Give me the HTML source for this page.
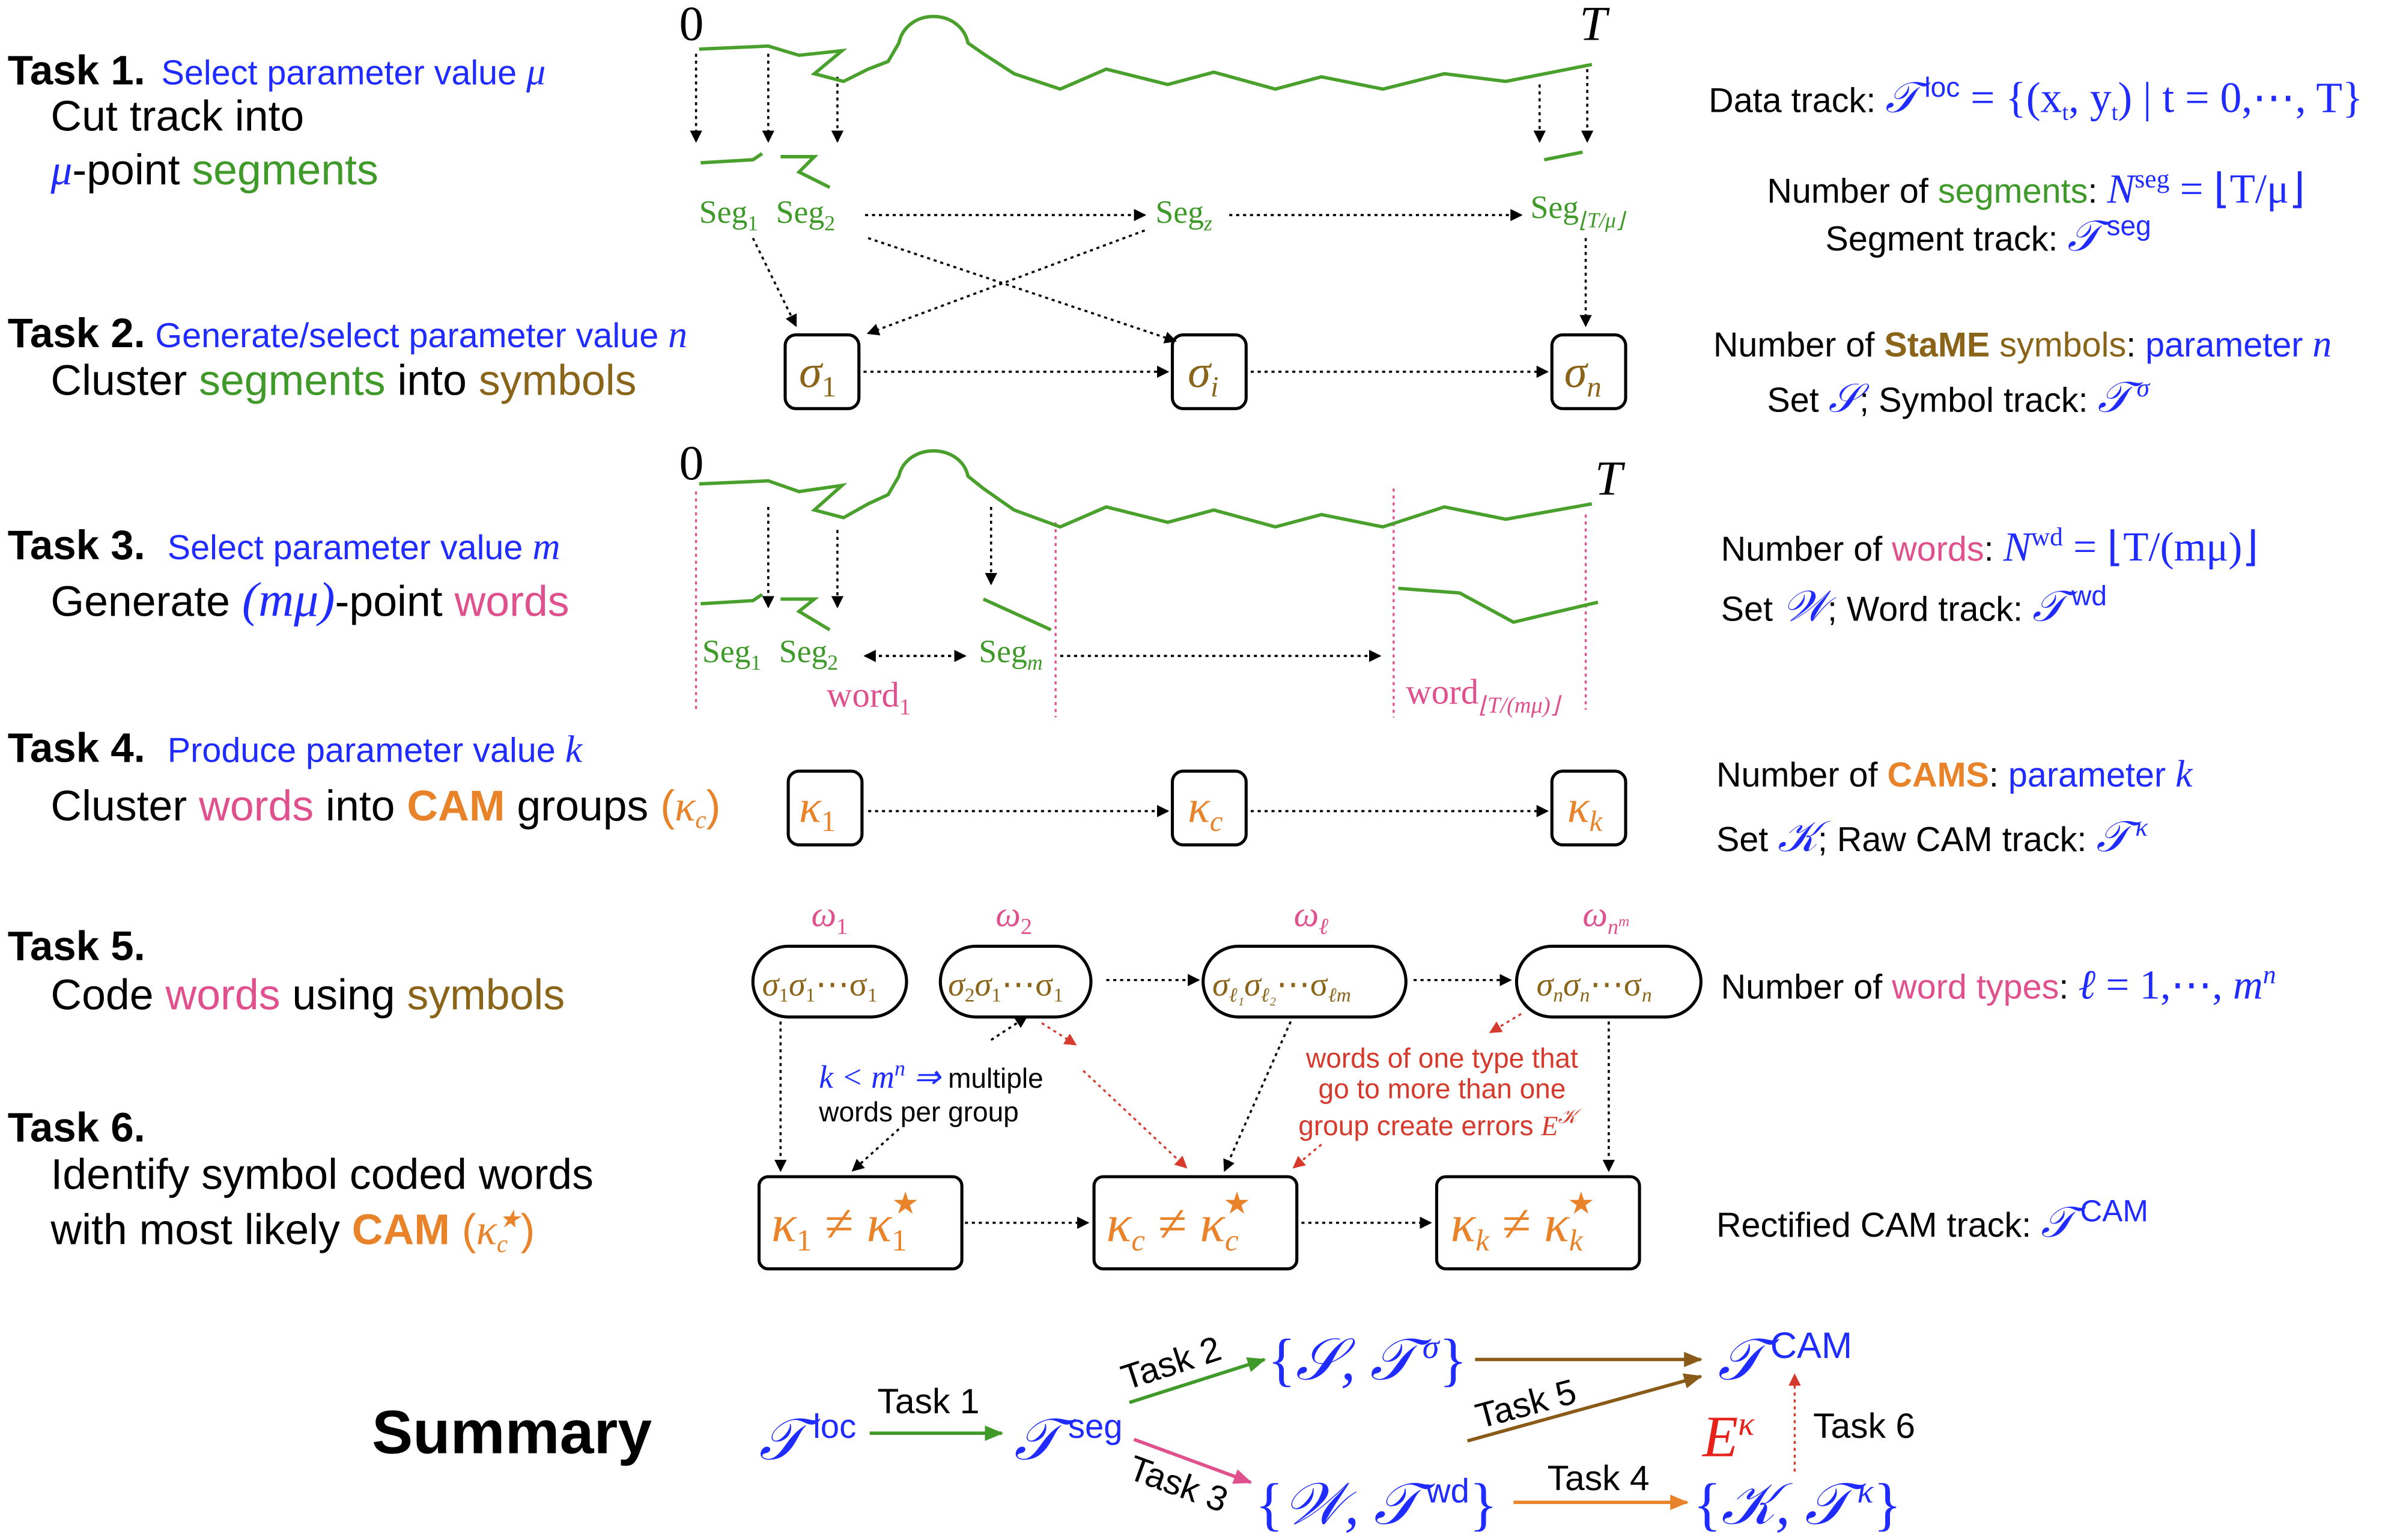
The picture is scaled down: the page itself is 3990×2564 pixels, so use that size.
<!DOCTYPE html>
<html><head><meta charset="utf-8"><style>
html,body{margin:0;padding:0;background:#fff}
svg{display:block}
.s{font-family:"Liberation Sans",sans-serif}
.r{font-family:"Liberation Serif",serif}
.b{fill:#1f2bff}.g{fill:#3f9a2a}.br{fill:#8a6418}.p{fill:#e0508c}.o{fill:#e8832a}.rd{fill:#d63a2c}
</style></head><body>
<svg width="3990" height="2564" viewBox="0 0 1560 1002.5" preserveAspectRatio="none" xmlns="http://www.w3.org/2000/svg">
<defs>
<marker id="a" markerWidth="8" markerHeight="8" refX="7" refY="4" orient="auto" markerUnits="userSpaceOnUse"><path d="M0,0 L8,4 L0,8 z" fill="#000"/></marker>
<marker id="ar" markerWidth="8" markerHeight="8" refX="7" refY="4" orient="auto" markerUnits="userSpaceOnUse"><path d="M0,0 L8,4 L0,8 z" fill="#d63a2c"/></marker>
<marker id="ag" markerWidth="12" markerHeight="10" refX="11" refY="5" orient="auto" markerUnits="userSpaceOnUse"><path d="M0,0 L12,5 L0,10 z" fill="#3f9a2a"/></marker>
<marker id="ap" markerWidth="12" markerHeight="10" refX="11" refY="5" orient="auto" markerUnits="userSpaceOnUse"><path d="M0,0 L12,5 L0,10 z" fill="#e0508c"/></marker>
<marker id="ab" markerWidth="12" markerHeight="10" refX="11" refY="5" orient="auto" markerUnits="userSpaceOnUse"><path d="M0,0 L12,5 L0,10 z" fill="#8a5a18"/></marker>
<marker id="ao" markerWidth="12" markerHeight="10" refX="11" refY="5" orient="auto" markerUnits="userSpaceOnUse"><path d="M0,0 L12,5 L0,10 z" fill="#e8832a"/></marker>
</defs>
<g stroke="#000" stroke-width="1.4" stroke-dasharray="2,2.5" fill="none" marker-end="url(#a)">
<line x1="453" y1="35" x2="453" y2="92"/><line x1="500" y1="35" x2="500" y2="92"/><line x1="545" y1="50" x2="545" y2="92"/>
<line x1="1002" y1="55" x2="1002" y2="92"/><line x1="1033" y1="45" x2="1033" y2="92"/>
<line x1="563" y1="140" x2="745" y2="140"/><line x1="800" y1="140" x2="990" y2="140"/>
<line x1="565" y1="155" x2="765" y2="222"/><line x1="745" y1="150" x2="565" y2="217"/>
<line x1="490" y1="155" x2="518" y2="212"/><line x1="1032" y1="155" x2="1032" y2="212"/>
<line x1="562" y1="242" x2="760" y2="242"/><line x1="814" y1="242" x2="1007" y2="242"/>
<line x1="500" y1="330" x2="500" y2="395"/><line x1="545" y1="345" x2="545" y2="395"/><line x1="645" y1="330" x2="645" y2="380"/>
<line x1="563" y1="427" x2="628" y2="427"/><line x1="628" y1="427" x2="563" y2="427"/>
<line x1="690" y1="427" x2="898" y2="427"/>
<line x1="565" y1="528" x2="760" y2="528"/><line x1="814" y1="528" x2="1007" y2="528"/>
<line x1="720" y1="638" x2="780" y2="638"/><line x1="920" y1="638" x2="983" y2="638"/>
<line x1="508" y1="665" x2="508" y2="762"/><line x1="840" y1="665" x2="797" y2="762"/>
<line x1="1047" y1="665" x2="1047" y2="762"/>
<line x1="628" y1="796" x2="708" y2="796"/><line x1="847" y1="796" x2="931" y2="796"/>
<line x1="585" y1="735" x2="555" y2="762"/><line x1="645" y1="677" x2="668" y2="662"/>
</g>
<g stroke="#d63a2c" stroke-width="1.3" stroke-dasharray="2,2.5" fill="none" marker-end="url(#ar)">
<line x1="678" y1="666" x2="700" y2="680"/><line x1="705" y1="697" x2="772" y2="760"/>
<line x1="990" y1="660" x2="970" y2="672"/><line x1="860" y1="745" x2="842" y2="760"/>
<line x1="1168" y1="958" x2="1168" y2="895"/>
</g>
<g stroke="#e0508c" stroke-width="1.3" stroke-dasharray="2,2.5">
<line x1="453" y1="320" x2="453" y2="462"/><line x1="687" y1="340" x2="687" y2="467"/>
<line x1="907" y1="318" x2="907" y2="467"/><line x1="1032" y1="335" x2="1032" y2="462"/>
</g>
<g stroke="#4aa02c" stroke-width="2.2" fill="none">
<path d="M455,32 L500,30 L520,36 L548,33 L530,48 L549,53 L565,45 L578,40 L585,28 C590,5 625,5 630,28 L640,35 L660,48 L690,58 L720,45 L760,55 L790,47 L830,58 L860,50 L900,58 L940,48 L980,53 L1036,42"/>
<path d="M456,106 L490,104 L496,100"/><path d="M508,102 L530,102 L520,112 L540,122"/>
<path d="M1005,104 L1030,99"/>
<path d="M455,315 L500,313 L520,320 L548,316 L530,332 L549,337 L565,328 L578,322 L585,310 C590,288 625,288 630,310 L640,318 L660,332 L690,343 L720,330 L760,340 L790,332 L830,343 L860,335 L900,343 L940,330 L980,338 L1036,328"/>
<path d="M456,393 L490,391 L496,387"/><path d="M508,390 L530,390 L520,398 L540,410"/><path d="M640,390 L684,410"/>
<path d="M910,383 L950,386 L985,405 L1040,392"/>
</g>
<g fill="none" stroke="#000" stroke-width="2">
<rect x="511" y="218" width="48" height="48" rx="7"/><rect x="763" y="218" width="48" height="48" rx="7"/><rect x="1010" y="218" width="48" height="48" rx="7"/>
<rect x="513" y="502" width="48" height="48" rx="7"/><rect x="763" y="502" width="48" height="48" rx="7"/><rect x="1010" y="502" width="48" height="48" rx="7"/>
<rect x="490" y="616" width="100" height="46" rx="23"/><rect x="612" y="616" width="98" height="46" rx="23"/>
<rect x="783" y="616" width="132" height="46" rx="23"/><rect x="987" y="616" width="120" height="46" rx="23"/>
<rect x="494" y="766" width="132" height="60" rx="6"/><rect x="712" y="766" width="132" height="60" rx="6"/><rect x="935" y="766" width="132" height="60" rx="6"/>
</g>
<g class="r" font-size="32">
<text x="442" y="26">0</text><text x="1028" y="26" font-style="italic">T</text>
<text x="442" y="312">0</text><text x="1038" y="322" font-style="italic">T</text>
</g>
<g class="r g" font-size="21">
<text x="455" y="145">Seg<tspan font-size="14" dy="5">1</tspan></text>
<text x="505" y="145">Seg<tspan font-size="14" dy="5">2</tspan></text>
<text x="752" y="145">Seg<tspan font-size="14" dy="5" font-style="italic">z</tspan></text>
<text x="996" y="142">Seg<tspan font-size="14" dy="6" font-style="italic">⌊T/μ⌋</tspan></text>
<text x="457" y="431">Seg<tspan font-size="14" dy="5">1</tspan></text>
<text x="507" y="431">Seg<tspan font-size="14" dy="5">2</tspan></text>
<text x="637" y="431">Seg<tspan font-size="14" dy="5" font-style="italic">m</tspan></text>
</g>
<g class="r p" font-size="23">
<text x="538" y="460">word<tspan font-size="15" dy="5">1</tspan></text>
<text x="915" y="458">word<tspan font-size="15" dy="6" font-style="italic">⌊T/(mμ)⌋</tspan></text>
<text x="528" y="603" font-style="italic">ω<tspan font-size="15" dy="5" font-style="normal">1</tspan></text>
<text x="648" y="603" font-style="italic">ω<tspan font-size="15" dy="5" font-style="normal">2</tspan></text>
<text x="842" y="603" font-style="italic">ω<tspan font-size="15" dy="5">ℓ</tspan></text>
<text x="1030" y="603" font-style="italic">ω<tspan font-size="14" dy="5">n<tspan font-size="10" dy="-5">m</tspan></tspan></text>
</g>
<g class="r" font-size="30" font-style="italic">
<text x="520" y="252" class="br">σ<tspan font-size="19" dy="6" font-style="normal">1</tspan></text>
<text x="773" y="252" class="br">σ<tspan font-size="19" dy="6">i</tspan></text>
<text x="1018" y="252" class="br">σ<tspan font-size="19" dy="6">n</tspan></text>
<text x="520" y="535" class="o">κ<tspan font-size="19" dy="6" font-style="normal">1</tspan></text>
<text x="773" y="535" class="o">κ<tspan font-size="19" dy="6">c</tspan></text>
<text x="1020" y="535" class="o">κ<tspan font-size="19" dy="6">k</tspan></text>
</g>
<g class="r br" font-size="22" font-style="italic">
<text x="496" y="648">σ<tspan font-size="13" dy="4" font-style="normal">1</tspan><tspan dy="-4">σ</tspan><tspan font-size="13" dy="4" font-style="normal">1</tspan><tspan dy="-4" font-style="normal">⋯σ</tspan><tspan font-size="13" dy="4" font-style="normal">1</tspan></text>
<text x="617" y="648">σ<tspan font-size="13" dy="4" font-style="normal">2</tspan><tspan dy="-4">σ</tspan><tspan font-size="13" dy="4" font-style="normal">1</tspan><tspan dy="-4" font-style="normal">⋯σ</tspan><tspan font-size="13" dy="4" font-style="normal">1</tspan></text>
<text x="789" y="648">σ<tspan font-size="13" dy="4">ℓ₁</tspan><tspan dy="-4">σ</tspan><tspan font-size="13" dy="4">ℓ₂</tspan><tspan dy="-4" font-style="normal">⋯σ</tspan><tspan font-size="13" dy="4">ℓm</tspan></text>
<text x="1000" y="648">σ<tspan font-size="13" dy="4">n</tspan><tspan dy="-4">σ</tspan><tspan font-size="13" dy="4">n</tspan><tspan dy="-4" font-style="normal">⋯σ</tspan><tspan font-size="13" dy="4">n</tspan></text>
</g>
<g class="r o" font-size="34" font-style="italic">
<text x="502" y="808">κ<tspan font-size="20" dy="6" font-style="normal">1</tspan><tspan dy="-6" font-style="normal"> ≠ </tspan>κ<tspan font-size="20" dy="6" font-style="normal">1</tspan><tspan font-size="20" dx="-10" dy="-24" font-style="normal">★</tspan></text>
<text x="720" y="808">κ<tspan font-size="20" dy="6">c</tspan><tspan dy="-6" font-style="normal"> ≠ </tspan>κ<tspan font-size="20" dy="6">c</tspan><tspan font-size="20" dx="-10" dy="-24" font-style="normal">★</tspan></text>
<text x="944" y="808">κ<tspan font-size="20" dy="6">k</tspan><tspan dy="-6" font-style="normal"> ≠ </tspan>κ<tspan font-size="20" dy="6">k</tspan><tspan font-size="20" dx="-10" dy="-24" font-style="normal">★</tspan></text>
</g>
<g class="s" font-size="27">
<text x="5" y="55" font-weight="bold">Task 1.</text>
<text x="105" y="55" class="b" font-size="22.5">Select parameter value <tspan class="r" font-style="italic" font-size="25">μ</tspan></text>
<text x="33" y="85" font-size="28">Cut track into</text>
<text x="33" y="120" font-size="28"><tspan class="b r" font-style="italic">μ</tspan>-point <tspan class="g">segments</tspan></text>
<text x="5" y="226" font-weight="bold">Task 2.</text>
<text x="101" y="226" class="b" font-size="22.5">Generate/select parameter value <tspan class="r" font-style="italic" font-size="25">n</tspan></text>
<text x="33" y="257" font-size="28">Cluster <tspan class="g">segments</tspan> into <tspan class="br">symbols</tspan></text>
<text x="5" y="364" font-weight="bold">Task 3.</text>
<text x="109" y="364" class="b" font-size="22.5">Select parameter value <tspan class="r" font-style="italic" font-size="25">m</tspan></text>
<text x="33" y="401" font-size="28">Generate <tspan class="b r" font-style="italic" font-size="32">(mμ)</tspan>-point <tspan class="p">words</tspan></text>
<text x="5" y="496" font-weight="bold">Task 4.</text>
<text x="109" y="496" class="b" font-size="22.5">Produce parameter value <tspan class="r" font-style="italic" font-size="25">k</tspan></text>
<text x="33" y="534" font-size="28">Cluster <tspan class="p">words</tspan> into <tspan class="o" font-weight="bold">CAM</tspan> groups <tspan class="o">(<tspan class="r" font-style="italic">κ<tspan font-size="16" dy="5">c</tspan></tspan><tspan dy="-5">)</tspan></tspan></text>
<text x="5" y="625" font-weight="bold">Task 5.</text>
<text x="33" y="657" font-size="28">Code <tspan class="p">words</tspan> using <tspan class="br">symbols</tspan></text>
<text x="5" y="743" font-weight="bold">Task 6.</text>
<text x="33" y="774" font-size="28">Identify symbol coded words</text>
<text x="33" y="810" font-size="28">with most likely <tspan class="o" font-weight="bold">CAM</tspan> <tspan class="o">(<tspan class="r" font-style="italic">κ<tspan font-size="16" dy="5">c</tspan><tspan font-size="16" dx="-6" dy="-16">★</tspan></tspan><tspan dy="11">)</tspan></tspan></text>
</g>
<g class="s" font-size="18">
<text x="533" y="708"><tspan class="b r" font-style="italic" font-size="21">k &lt; m<tspan font-size="14" dy="-8">n</tspan><tspan dy="8"> ⇒</tspan></tspan>  multiple</text>
<text x="533" y="730">words per group</text>
<text x="850" y="695" class="rd">words of one type that</text>
<text x="858" y="715" class="rd">go to more than one</text>
<text x="845" y="739" class="rd">group create errors <tspan class="r" font-style="italic">E<tspan font-size="13" dy="-8">𝒦</tspan></tspan></text>
</g>
<g class="s" font-size="22.5">
<text x="1112" y="73">Data track: <tspan class="b r" font-style="italic" font-size="28">𝒯<tspan font-size="18" dx="4" dy="-10" font-style="normal" class="s">loc</tspan><tspan dy="10" font-style="normal"> = {(x<tspan font-size="15" dy="5">t</tspan><tspan dy="-5">, y</tspan><tspan font-size="15" dy="5">t</tspan><tspan dy="-5">) | t = 0,⋯, T}</tspan></tspan></tspan></text>
<text x="1150" y="132">Number of <tspan class="g">segments</tspan>:  <tspan class="b r" font-style="italic" font-size="27">N<tspan font-size="17" dy="-10" font-style="normal">seg</tspan><tspan dy="10" font-style="normal"> = ⌊T/μ⌋</tspan></tspan></text>
<text x="1188" y="163">Segment track: <tspan class="b r" font-style="italic" font-size="28">𝒯<tspan class="s" font-size="18" dx="4" dy="-10" font-style="normal">seg</tspan></tspan></text>
<text x="1115" y="232">Number of <tspan class="br" font-weight="bold">StaME</tspan> <tspan class="br">symbols</tspan>:  <tspan class="b">parameter <tspan class="r" font-style="italic" font-size="25">n</tspan></tspan></text>
<text x="1150" y="268">Set <tspan class="b r" font-style="italic" font-size="26">𝒮</tspan>;  Symbol track: <tspan class="b r" font-style="italic" font-size="28">𝒯<tspan font-size="17" dx="4" dy="-10">σ</tspan></tspan></text>
<text x="1120" y="365">Number of <tspan class="p">words</tspan>:  <tspan class="b r" font-style="italic" font-size="27">N<tspan font-size="17" dy="-10" font-style="normal">wd</tspan><tspan dy="10" font-style="normal"> = ⌊T/(mμ)⌋</tspan></tspan></text>
<text x="1120" y="404">Set <tspan class="b r" font-style="italic" font-size="28">𝒲</tspan>;  Word track: <tspan class="b r" font-style="italic" font-size="28">𝒯<tspan class="s" font-size="18" dx="4" dy="-10" font-style="normal">wd</tspan></tspan></text>
<text x="1117" y="512">Number of <tspan class="o" font-weight="bold">CAMS</tspan>:  <tspan class="b">parameter <tspan class="r" font-style="italic" font-size="25">k</tspan></tspan></text>
<text x="1117" y="554">Set <tspan class="b r" font-style="italic" font-size="28">𝒦</tspan>;  Raw CAM track: <tspan class="b r" font-style="italic" font-size="28">𝒯<tspan font-size="17" dx="4" dy="-10">κ</tspan></tspan></text>
<text x="1120" y="650">Number of <tspan class="p">word types</tspan>:  <tspan class="b r" font-style="italic" font-size="27">ℓ<tspan font-style="normal"> = 1,⋯, </tspan>m<tspan font-size="17" dy="-10">n</tspan></tspan></text>
<text x="1117" y="805">Rectified CAM track:  <tspan class="b r" font-style="italic" font-size="28">𝒯<tspan class="s" font-size="20" dx="4" dy="-10" font-style="normal">CAM</tspan></tspan></text>
</g>
<text x="242" y="946" class="s" font-size="40" font-weight="bold">Summary</text>
<g stroke-width="2.2" fill="none">
<line x1="566" y1="933" x2="652" y2="933" stroke="#3f9a2a" marker-end="url(#ag)"/>
<line x1="735" y1="913" x2="823" y2="885" stroke="#3f9a2a" marker-end="url(#ag)"/>
<line x1="738" y1="937" x2="814" y2="965" stroke="#e0508c" marker-end="url(#ap)"/>
<line x1="960" y1="885" x2="1107" y2="885" stroke="#8a5a18" marker-end="url(#ab)"/>
<line x1="955" y1="938" x2="1107" y2="896" stroke="#8a5a18" marker-end="url(#ab)"/>
<line x1="985" y1="978" x2="1098" y2="978" stroke="#e8832a" marker-end="url(#ao)"/>
</g>
<g class="b r" font-style="italic" font-size="38">
<text x="494" y="950">𝒯<tspan class="s" font-style="normal" font-size="22" dx="6" dy="-14">loc</tspan></text>
<text x="660" y="950">𝒯<tspan class="s" font-style="normal" font-size="22" dx="6" dy="-14">seg</tspan></text>
<text x="825" y="898" font-style="normal">{<tspan font-style="italic">𝒮, 𝒯<tspan font-size="22" dx="5" dy="-14">σ</tspan></tspan><tspan dy="14">}</tspan></text>
<text x="817" y="992" font-style="normal">{<tspan font-style="italic">𝒲, 𝒯</tspan><tspan class="s" font-size="22" dx="5" dy="-14">wd</tspan><tspan dy="14">}</tspan></text>
<text x="1102" y="992" font-style="normal">{<tspan font-style="italic">𝒦, 𝒯<tspan font-size="22" dx="5" dy="-14">κ</tspan></tspan><tspan dy="14">}</tspan></text>
<text x="1118" y="898">𝒯<tspan class="s" font-style="normal" font-size="24" dx="5" dy="-14">CAM</tspan></text>
</g>
<text x="1108" y="948" class="r" font-style="italic" font-size="38" fill="#e8201a">E<tspan font-size="22" dy="-14">κ</tspan></text>
<g class="s" font-size="23">
<text x="571" y="920">Task 1</text>
<text x="733" y="905" transform="rotate(-18 733 905)">Task 2</text>
<text x="733" y="962" transform="rotate(20 733 962)">Task 3</text>
<text x="963" y="930" transform="rotate(-15 963 930)">Task 5</text>
<text x="1007" y="970">Task 4</text>
<text x="1180" y="936">Task 6</text>
</g>
</svg>
</body></html>
